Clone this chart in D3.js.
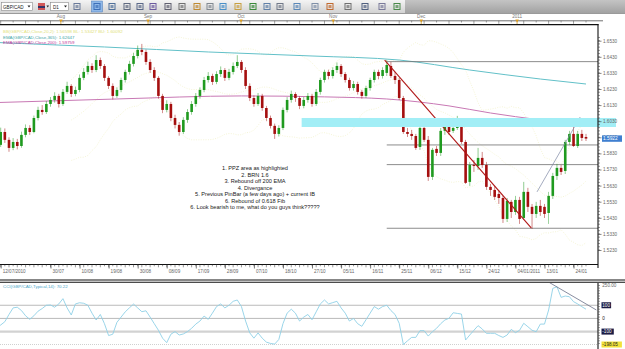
<!DOCTYPE html>
<html>
<head>
<meta charset="utf-8">
<script src="https://cdn.jsdelivr.net/npm/d3@7"></script>
<style>
html, body { margin: 0; padding: 0; background: #fff; overflow: hidden; }
svg { display: block; font-family: "Liberation Sans", Arial, sans-serif; }
</style>
</head>
<body>
<svg id="chart" width="625" height="349"></svg>
<script>

// daily GBP/CAD bars, index 0 = first bar of the window
var openP = [
	1.5900,1.5926,1.5883,1.5963,1.5914,1.5864,1.5901,1.5876,1.5945,1.5988,
	1.5963,1.6050,1.6100,1.6087,1.6137,1.6162,1.6187,1.6137,1.6212,1.6249,
	1.6199,1.6224,1.6299,1.6336,1.6373,1.6348,1.6410,1.6373,1.6299,1.6249,
	1.6187,1.6224,1.6286,1.6336,1.6386,1.6435,1.6473,1.6460,1.6398,1.6348,
	1.6299,1.6187,1.6100,1.6137,1.6050,1.6007,1.5963,1.6038,1.6087,1.6137,
	1.6187,1.6224,1.6286,1.6311,1.6274,1.6323,1.6348,1.6299,1.6336,1.6373,
	1.6398,1.6348,1.6249,1.6174,1.6137,1.6187,1.6112,1.6050,1.6001,1.5951,
	1.5988,1.6100,1.6162,1.6199,1.6174,1.6125,1.6162,1.6187,1.6137,1.6212,
	1.6286,1.6336,1.6311,1.6348,1.6373,1.6323,1.6286,1.6236,1.6261,1.6212,
	1.6187,1.6236,1.6286,1.6336,1.6311,1.6330,1.6373,1.6311,1.6286,1.6174,
	1.5963,1.5951,1.5938,1.5870,1.5988,1.5914,1.5684,1.5858,1.5833,1.5970,
	1.6007,1.5970,1.5988,1.6019,1.5901,1.5653,1.5758,1.5752,1.5802,1.5758,
	1.5622,1.5603,1.5578,1.5553,1.5423,1.5529,1.5466,1.5541,1.5429,1.5591,
	1.5498,1.5454,1.5504,1.5498,1.5460,1.5566,1.5690,1.5740,1.5721,1.5901,
	1.5951,1.5876,1.5951,1.5932
];
var highP = [
	1.5975,1.5950,1.5990,1.5985,1.5930,1.5925,1.5920,1.5965,1.6010,1.6005,
	1.6065,1.6120,1.6130,1.6155,1.6180,1.6210,1.6200,1.6230,1.6275,1.6260,
	1.6245,1.6320,1.6360,1.6400,1.6390,1.6440,1.6425,1.6385,1.6310,1.6265,
	1.6240,1.6300,1.6350,1.6405,1.6455,1.6500,1.6510,1.6475,1.6415,1.6365,
	1.6310,1.6200,1.6160,1.6150,1.6070,1.6025,1.6055,1.6105,1.6155,1.6205,
	1.6240,1.6305,1.6335,1.6325,1.6340,1.6370,1.6360,1.6355,1.6395,1.6440,
	1.6410,1.6365,1.6265,1.6190,1.6205,1.6200,1.6125,1.6065,1.6015,1.6005,
	1.6115,1.6180,1.6220,1.6210,1.6185,1.6180,1.6205,1.6200,1.6230,1.6300,
	1.6350,1.6350,1.6365,1.6395,1.6385,1.6335,1.6300,1.6280,1.6275,1.6225,
	1.6250,1.6300,1.6350,1.6350,1.6365,1.6410,1.6398,1.6336,1.6299,1.6187,
	1.5988,1.5976,1.5951,1.6038,1.6025,1.5938,1.5864,1.5876,1.5988,1.6038,
	1.6050,1.6007,1.6063,1.6038,1.5914,1.5777,1.5789,1.5864,1.5839,1.5777,
	1.5640,1.5628,1.5603,1.5566,1.5553,1.5541,1.5566,1.5560,1.5653,1.5616,
	1.5516,1.5529,1.5541,1.5516,1.5591,1.5709,1.5765,1.5758,1.5914,1.5970,
	1.6019,1.5970,1.5976,1.5951
];
var lowP = [
	1.5870,1.5860,1.5870,1.5895,1.5840,1.5850,1.5855,1.5865,1.5930,1.5945,
	1.5955,1.6035,1.6070,1.6075,1.6120,1.6145,1.6115,1.6125,1.6200,1.6180,
	1.6185,1.6210,1.6285,1.6320,1.6330,1.6335,1.6355,1.6280,1.6230,1.6165,
	1.6175,1.6210,1.6270,1.6320,1.6370,1.6420,1.6440,1.6380,1.6330,1.6280,
	1.6170,1.6080,1.6085,1.6030,1.5985,1.5940,1.5950,1.6020,1.6070,1.6120,
	1.6170,1.6210,1.6270,1.6255,1.6260,1.6305,1.6280,1.6285,1.6320,1.6360,
	1.6330,1.6230,1.6155,1.6120,1.6125,1.6095,1.6030,1.5985,1.5920,1.5935,
	1.5975,1.6085,1.6145,1.6150,1.6105,1.6110,1.6145,1.6120,1.6125,1.6195,
	1.6270,1.6290,1.6295,1.6330,1.6305,1.6270,1.6220,1.6220,1.6195,1.6170,
	1.6175,1.6220,1.6270,1.6290,1.6295,1.6311,1.6299,1.6261,1.6162,1.5951,
	1.5932,1.5914,1.5852,1.5852,1.5901,1.5659,1.5665,1.5814,1.5814,1.5945,
	1.5945,1.5957,1.5976,1.5889,1.5640,1.5628,1.5715,1.5727,1.5740,1.5603,
	1.5566,1.5541,1.5516,1.5398,1.5404,1.5429,1.5448,1.5392,1.5417,1.5466,
	1.5361,1.5429,1.5442,1.5429,1.5392,1.5547,1.5665,1.5696,1.5702,1.5883,
	1.5870,1.5864,1.5907,1.5907
];
var closeP = [
	1.5926,1.5883,1.5963,1.5914,1.5864,1.5901,1.5876,1.5945,1.5988,1.5963,
	1.6050,1.6100,1.6087,1.6137,1.6162,1.6187,1.6137,1.6212,1.6249,1.6199,
	1.6224,1.6299,1.6336,1.6373,1.6348,1.6410,1.6373,1.6299,1.6249,1.6187,
	1.6224,1.6286,1.6336,1.6386,1.6435,1.6473,1.6460,1.6398,1.6348,1.6299,
	1.6187,1.6100,1.6137,1.6050,1.6007,1.5963,1.6038,1.6087,1.6137,1.6187,
	1.6224,1.6286,1.6311,1.6274,1.6323,1.6348,1.6299,1.6336,1.6373,1.6398,
	1.6348,1.6249,1.6174,1.6137,1.6187,1.6112,1.6050,1.6001,1.5951,1.5988,
	1.6100,1.6162,1.6199,1.6174,1.6125,1.6162,1.6187,1.6137,1.6212,1.6286,
	1.6336,1.6311,1.6348,1.6373,1.6323,1.6286,1.6236,1.6261,1.6212,1.6187,
	1.6236,1.6286,1.6336,1.6311,1.6348,1.6379,1.6311,1.6286,1.6174,1.5963,
	1.5951,1.5938,1.5864,1.5988,1.5914,1.5684,1.5852,1.5833,1.5970,1.6007,
	1.5963,1.5988,1.6019,1.5901,1.5647,1.5758,1.5752,1.5802,1.5758,1.5622,
	1.5603,1.5560,1.5553,1.5423,1.5535,1.5466,1.5541,1.5423,1.5591,1.5498,
	1.5454,1.5504,1.5466,1.5454,1.5566,1.5690,1.5740,1.5715,1.5901,1.5951,
	1.5876,1.5951,1.5926,1.5922
];

// CCI(14) per bar
var cciValues = [
	-90,-75,-50,-25,30,80,85,60,20,-7,
	20,55,75,100,102,85,110,150,80,26,
	110,119,115,100,40,-12,30,-40,-130,-120,
	-30,10,50,80,109,80,51,58,10,-40,
	-90,-150,-184,-120,-100,-126,-118,-100,-75,-43,
	-20,18,-7,40,90,110,80,100,130,140,
	90,-20,-110,-150,-110,-150,-180,-190,-195,-160,
	-40,40,70,40,-20,10,30,-10,50,110,
	140,110,120,130,80,40,-20,0,-40,-60,
	-10,40,90,70,90,100,60,30,-37,-198,
	-170,-144,-144,-93,-93,-134,-101,-75,-40,-12,
	1,43,38,33,-164,-126,-90,-55,-80,-113,
	-113,-113,-130,-144,-126,-83,-108,-90,-37,-63,
	-90,-101,-43,-43,64,228,241,160,170,165,
	127,110,89,70
];

// bottom time scale (bar index -> label)
var dateTicks  = [2, 14, 21, 28, 35, 42, 49, 56, 63, 70, 77, 84, 91, 98, 105, 112, 119, 126, 133, 140];
var dateLabels = ['12/07/2010','30/07','10/08','19/08','30/08','08/09','17/09','28/09','07/10','18/10',
                  '27/10','05/11','16/11','25/11','06/12','15/12','24/12','04/01/2011','13/01','24/01'];
// top ruler months
var monthTicks  = [16.5, 37.5, 59.9, 82.1, 103.3, 126.4];
var monthLabels = ['Aug', 'Sep', 'Oct', 'Nov', 'Dec', '2011'];
// price scale labels
var priceTicks = [1.5230,1.5330,1.5430,1.5530,1.5630,1.5730,1.5830,1.5930,1.6030,1.6130,1.6230,1.6330,1.6430,1.6530];

// moving averages [bar, price]
var ema365 = [[0,1.6520],[27,1.6491],[52,1.6460],[77,1.6435],[98,1.6410],[115,1.6348],[132,1.6292],[143,1.6261]];
var ema200 = [[0,1.6145],[30,1.6168],[60,1.6187],[80,1.6181],[95,1.6168],[110,1.6125],[120,1.6081],[132,1.6038],[143,1.6007]];

// drawn objects
var fibLevels = [0, 0.382, 0.5, 0.618, 1];
var fibHigh = 1.6400, fibLow = 1.5365, fibStartBar = 95;
var ppzZone = {fromBar: 74.5, top: 1.6050, bottom: 1.5994};
var trendDown = [[94.5, 1.6410], [129.8, 1.5367]];
var trendUp = [[131.2, 1.5591], [141.6, 1.6056]];
var cciTrend = [[134, 276], [145.5, 64]];
var cciLevels = [100, 0, -100];
var lastPrice = 1.5922, cciLast = '70.22', cciMin = -198.05, cciMax = 250;

var legendLines = [
	{text: 'BB(GBP/CAD,Close,20,2): 1.56598  BL: 1.53427  BU: 1.60092', color: '#e2e27a'},
	{text: 'EMA(GBP/CAD,Close,365): 1.62647', color: '#3fa7a7'},
	{text: 'EMA(GBP/CAD,Close,200): 1.59759', color: '#c0389a'}
];
var notes = [
	'1. PPZ area as highlighted',
	'2. BRN 1.6',
	'3. Rebound off 200 EMA',
	'4. Divergance',
	'5. Previous PinBar (a few days ago) + current IB',
	'6. Rebound of 0.618 Fib',
	'6. Look bearish to me, what do you guys think?????'
];

var svg = d3.select('#chart');
var W = 625, H = 349;
var plotRight = 598, plotTop = 25, plotBottom = 264.5;
var cciTop = 283, cciBottom = 349;

var x = d3.scaleLinear().domain([14, 143]).range([50.5, 586]);
var y = d3.scaleLinear().domain([1.5230, 1.6530]).range([250, 40.7]);
var yc = d3.scaleLinear().domain([cciMin, cciMax]).range([344.5, 285.5]);

var defs = svg.append('defs');
defs.append('clipPath').attr('id', 'clipMain')
	.append('rect').attr('x', 0).attr('y', plotTop).attr('width', plotRight).attr('height', plotBottom - plotTop);
defs.append('clipPath').attr('id', 'clipCci')
	.append('rect').attr('x', 0).attr('y', cciTop).attr('width', plotRight).attr('height', cciBottom - cciTop);
var g1 = defs.append('linearGradient').attr('id', 'tbLight').attr('x1', 0).attr('x2', 0).attr('y1', 0).attr('y2', 1);
g1.append('stop').attr('offset', '0%').attr('stop-color', '#f4f4f4');
g1.append('stop').attr('offset', '100%').attr('stop-color', '#d2d2d2');
var g2 = defs.append('linearGradient').attr('id', 'tbDark').attr('x1', 0).attr('x2', 0).attr('y1', 0).attr('y2', 1);
g2.append('stop').attr('offset', '0%').attr('stop-color', '#c4c4c4');
g2.append('stop').attr('offset', '100%').attr('stop-color', '#a2a2a2');

svg.append('rect').attr('width', W).attr('height', H).attr('fill', '#fff');

// ---- toolbar ----
var tb = svg.append('g');
tb.append('rect').attr('width', W).attr('height', 13).attr('fill', 'url(#tbLight)');
tb.append('rect').attr('x', 405).attr('width', W - 405).attr('height', 13).attr('fill', 'url(#tbDark)');
tb.append('line').attr('x1', 0).attr('x2', W).attr('y1', 13.5).attr('y2', 13.5).attr('stroke', '#9a9a9a');
// symbol and period boxes
tb.append('rect').attr('x', 1.5).attr('y', 2.5).attr('width', 31).attr('height', 8).attr('fill', '#fff').attr('stroke', '#8a8a8a').attr('stroke-width', 0.6);
tb.append('text').attr('x', 3).attr('y', 8.6).attr('font-size', 4.6).attr('fill', '#222').text('GBP/CAD');
tb.append('path').attr('d', 'M27.5,5.5h3l-1.5,2z').attr('fill', '#222');
tb.append('rect').attr('x', 38).attr('y', 3).attr('width', 7).attr('height', 7).attr('fill', '#c33').attr('opacity', 0.8);
tb.append('rect').attr('x', 38).attr('y', 6).attr('width', 7).attr('height', 2).attr('fill', '#336');
tb.append('path').attr('d', 'M46.5,5.5h2.5l-1.25,2z').attr('fill', '#222');
tb.append('rect').attr('x', 50.5).attr('y', 2.5).attr('width', 18).attr('height', 8).attr('fill', '#fff').attr('stroke', '#8a8a8a').attr('stroke-width', 0.6);
tb.append('text').attr('x', 53).attr('y', 8.6).attr('font-size', 4.6).attr('fill', '#222').text('D1');
tb.append('path').attr('d', 'M64,5.5h3l-1.5,2z').attr('fill', '#222');
// icon buttons
var icons = [[77,'#6a7a9a'],[97,'#3d6fb8'],[112,'#50709a'],[127,'#606a80'],[140,'#5a6888'],[153,'#6c5aa0'],
	[168,'#606070'],[182,'#707070'],[197,'#c08a30'],[210,'#808890'],[223,'#4a90c8'],[238,'#c8a040'],
	[253,'#3a8a3a'],[267,'#6080a8'],[280,'#707888'],[297,'#5a88b8'],[315,'#8090a8'],[330,'#c06a30'],
	[348,'#707070'],[365,'#506080'],[382,'#7a7a9a'],[397,'#4a8a4a']];
icons.forEach(function(d, k) {
	if (k === 1) {
		tb.append('rect').attr('x', d[0] - 5.5).attr('y', 1).attr('width', 11).attr('height', 11).attr('fill', '#8fb8e8').attr('stroke', '#4a7ab8').attr('stroke-width', 0.5);
	}
	tb.append('rect').attr('x', d[0] - 3).attr('y', 3.5).attr('width', 6).attr('height', 6)
		.attr('fill', 'none').attr('stroke', d[1]).attr('stroke-width', 1);
	tb.append('rect').attr('x', d[0] - 1.5).attr('y', 5).attr('width', 3).attr('height', 3).attr('fill', d[1]).attr('opacity', 0.7);
});

// ---- top ruler ----
var ruler = svg.append('g');
ruler.append('line').attr('x1', 0).attr('x2', 603).attr('y1', 20.8).attr('y2', 20.8).attr('stroke', '#333').attr('stroke-width', 0.7);
ruler.selectAll('line.rt').data(d3.range(2, 144, 3)).enter().append('line')
	.attr('x1', function(d) { return x(d); }).attr('x2', function(d) { return x(d); })
	.attr('y1', 20.8).attr('y2', function(d, k) { return k % 2 ? 22.5 : 23.8; })
	.attr('stroke', '#444').attr('stroke-width', 0.5);
ruler.selectAll('path.mk').data(monthTicks).enter().append('path')
	.attr('d', function(d) { var cx = x(d); return 'M' + (cx - 1.8) + ',19.6h3.6l-1.8,2.6z'; })
	.attr('fill', '#e0a020');
ruler.selectAll('line.mk').data(monthTicks).enter().append('line')
	.attr('x1', function(d) { return x(d); }).attr('x2', function(d) { return x(d); })
	.attr('y1', 20.8).attr('y2', 24).attr('stroke', '#c88a10').attr('stroke-width', 0.7);
ruler.selectAll('text').data(monthTicks).enter().append('text')
	.attr('x', function(d) { return x(d); }).attr('y', 17.6)
	.attr('text-anchor', 'middle').attr('font-size', 4.6).attr('fill', '#777')
	.text(function(d, k) { return monthLabels[k]; });

// ---- main price panel ----
var plot = svg.append('g').attr('clip-path', 'url(#clipMain)');

// PPZ highlighted zone (runs over the price scale a bit)
svg.append('rect')
	.attr('x', x(ppzZone.fromBar)).attr('y', y(ppzZone.top))
	.attr('width', plotRight + 18 - x(ppzZone.fromBar))
	.attr('height', y(ppzZone.bottom) - y(ppzZone.top))
	.attr('fill', '#a2eef6');

// bollinger bands (20, 2) from closes
var bbUp = [], bbMid = [], bbLow = [];
for (var i = 19; i < closeP.length; i++) {
	var win = closeP.slice(i - 19, i + 1);
	var m = d3.mean(win);
	var sd = Math.sqrt(d3.mean(win, function(v) { return (v - m) * (v - m); }));
	bbUp.push([i, m + 2 * sd]); bbMid.push([i, m]); bbLow.push([i, m - 2 * sd]);
}
var pline = d3.line().x(function(d) { return x(d[0]); }).y(function(d) { return y(d[1]); });
[bbUp, bbMid, bbLow].forEach(function(band) {
	plot.append('path').attr('d', pline(band)).attr('fill', 'none')
		.attr('stroke', '#efefbc').attr('stroke-width', 0.6).attr('stroke-dasharray', '1,1.4');
});

// EMAs
var smooth = d3.line().curve(d3.curveMonotoneX).x(function(d) { return x(d[0]); }).y(function(d) { return y(d[1]); });
plot.append('path').attr('d', smooth(ema365)).attr('fill', 'none').attr('stroke', '#62c0c8').attr('stroke-width', 1);
plot.append('path').attr('d', smooth(ema200)).attr('fill', 'none').attr('stroke', '#c878b4').attr('stroke-width', 1);

// fibonacci levels
var fibRange = fibHigh - fibLow;
plot.selectAll('line.fib').data(fibLevels).enter().append('line')
	.attr('x1', x(fibStartBar)).attr('x2', plotRight)
	.attr('y1', function(d) { return y(fibLow + d * fibRange); })
	.attr('y2', function(d) { return y(fibLow + d * fibRange); })
	.attr('stroke', '#6e6e6e').attr('stroke-width', 0.8);

// candles
var bars = d3.range(closeP.length);
var bodyW = 2.6;
function candleColor(i) { return closeP[i] >= openP[i] ? '#1f9a1f' : '#a50f0f'; }
plot.selectAll('line.wick').data(bars).enter().append('line')
	.attr('x1', function(i) { return x(i); }).attr('x2', function(i) { return x(i); })
	.attr('y1', function(i) { return y(highP[i]); }).attr('y2', function(i) { return y(lowP[i]); })
	.attr('stroke', candleColor).attr('stroke-width', 0.7).attr('opacity', 0.7);
plot.selectAll('rect.body').data(bars).enter().append('rect')
	.attr('x', function(i) { return x(i) - bodyW / 2; }).attr('width', bodyW)
	.attr('y', function(i) { return y(Math.max(openP[i], closeP[i])); })
	.attr('height', function(i) { return Math.max(0.8, Math.abs(y(openP[i]) - y(closeP[i]))); })
	.attr('fill', candleColor);

// trend lines
plot.append('path').attr('d', pline(trendDown)).attr('stroke', '#b01818').attr('stroke-width', 1.1).attr('fill', 'none');
plot.append('path').attr('d', pline(trendUp)).attr('stroke', '#7c86a4').attr('stroke-width', 0.7).attr('fill', 'none');

// legend
svg.selectAll('text.leg').data(legendLines).enter().append('text')
	.attr('x', 3).attr('y', function(d, k) { return 33 + k * 5.5; })
	.attr('font-size', 4.4).attr('fill', function(d) { return d.color; })
	.text(function(d) { return d.text; });

// notes
svg.append('g').selectAll('text').data(notes).enter().append('text')
	.attr('x', 255).attr('y', function(d, k) { return 170 + k * 6.5; })
	.attr('text-anchor', 'middle').attr('font-size', 5.6).attr('fill', '#1a1a1a')
	.text(function(d) { return d; });

// frame
svg.append('line').attr('x1', 0).attr('x2', plotRight + 0.5).attr('y1', 24.6).attr('y2', 24.6).attr('stroke', '#111').attr('stroke-width', 1.4);
svg.append('line').attr('x1', plotRight).attr('x2', plotRight).attr('y1', 24).attr('y2', 268).attr('stroke', '#111').attr('stroke-width', 1.1);

// price scale
var minorTicks = d3.range(1.5230, 1.6560, 0.002);
svg.append('g').selectAll('line').data(minorTicks).enter().append('line')
	.attr('x1', plotRight).attr('x2', plotRight + 2)
	.attr('y1', function(d) { return y(d); }).attr('y2', function(d) { return y(d); })
	.attr('stroke', '#333').attr('stroke-width', 0.5);
var yAxis = d3.axisRight(y).tickValues(priceTicks).tickFormat(d3.format('.4f')).tickSize(3.5).tickPadding(1.5);
var ya = svg.append('g').attr('transform', 'translate(' + plotRight + ',0)').call(yAxis);
ya.select('.domain').remove();
ya.selectAll('line').attr('stroke', '#333').attr('stroke-width', 0.6);
ya.selectAll('text').attr('font-size', 4.6).attr('fill', '#666').attr('font-family', '"Liberation Sans", Arial, sans-serif');

// last price marker
svg.append('rect').attr('x', plotRight + 4).attr('y', y(lastPrice) - 3.2).attr('width', 20).attr('height', 6.4).attr('fill', '#3f7fd0');
svg.append('text').attr('x', plotRight + 5).attr('y', y(lastPrice) + 1.7).attr('font-size', 4.8).attr('fill', '#fff').text(lastPrice.toFixed(4));

// bottom time scale
svg.append('line').attr('x1', 0).attr('x2', plotRight).attr('y1', plotBottom).attr('y2', plotBottom).attr('stroke', '#111').attr('stroke-width', 1);
svg.append('g').selectAll('line').data(bars).enter().append('line')
	.attr('x1', function(i) { return x(i); }).attr('x2', function(i) { return x(i); })
	.attr('y1', plotBottom).attr('y2', function(i) { return i % 2 ? plotBottom + 1.8 : plotBottom + 2.8; })
	.attr('stroke', '#333').attr('stroke-width', 0.5);
var xAxis = d3.axisBottom(x).tickValues(dateTicks).tickSize(4).tickFormat(function(d, k) { return dateLabels[k]; });
var xa = svg.append('g').attr('transform', 'translate(0,' + plotBottom + ')').call(xAxis);
xa.select('.domain').remove();
xa.selectAll('line').attr('stroke', '#222').attr('stroke-width', 0.6);
xa.selectAll('text').attr('font-size', 4.6).attr('fill', '#666').attr('text-anchor', 'start')
	.attr('dx', 1.5).attr('dy', 0).attr('y', 8).attr('font-family', '"Liberation Sans", Arial, sans-serif');

// panel separator
svg.append('line').attr('x1', 0).attr('x2', W).attr('y1', 280).attr('y2', 280).attr('stroke', '#111').attr('stroke-width', 1.1);
svg.append('line').attr('x1', 0).attr('x2', W).attr('y1', 282.2).attr('y2', 282.2).attr('stroke', '#111').attr('stroke-width', 1.1);

// ---- CCI panel ----
var cp = svg.append('g').attr('clip-path', 'url(#clipCci)');
cp.selectAll('line.lvl').data(cciLevels).enter().append('line')
	.attr('x1', 0).attr('x2', plotRight)
	.attr('y1', function(d) { return yc(d); }).attr('y2', function(d) { return yc(d); })
	.attr('stroke', function(d) { return d < 0 ? '#d2d2d2' : '#a8a8a8'; })
	.attr('stroke-width', function(d) { return d < 0 ? 2.2 : 0.8; });
cp.append('line').attr('x1', 0).attr('x2', plotRight).attr('y1', yc(cciMin)).attr('y2', yc(cciMin))
	.attr('stroke', '#bbb').attr('stroke-width', 0.7).attr('stroke-dasharray', '1,1');
var cline = d3.line().x(function(d, i) { return x(i); }).y(function(d) { return yc(d); });
cp.append('path').attr('d', cline(cciValues)).attr('fill', 'none').attr('stroke', '#8fd0e6').attr('stroke-width', 0.9);
cp.append('path').attr('d', d3.line().x(function(d) { return x(d[0]); }).y(function(d) { return yc(d[1]); })(cciTrend))
	.attr('stroke', '#6a7088').attr('stroke-width', 0.8).attr('fill', 'none');
svg.append('text').attr('x', 3).attr('y', 287.5).attr('font-size', 4.4).attr('fill', '#4aa6c8')
	.text('CCI(GBP/CAD,Typical,14): ' + cciLast);

// CCI scale
svg.append('line').attr('x1', plotRight).attr('x2', plotRight).attr('y1', cciTop).attr('y2', H).attr('stroke', '#111').attr('stroke-width', 1.1);
svg.append('g').selectAll('line').data(d3.range(-190, 251, 20)).enter().append('line')
	.attr('x1', plotRight).attr('x2', plotRight + 2)
	.attr('y1', function(d) { return yc(d); }).attr('y2', function(d) { return yc(d); })
	.attr('stroke', '#444').attr('stroke-width', 0.5);
var cciScaleLabels = [
	{v: cciMax, t: cciMax.toFixed(2), bg: null, fg: '#666'},
	{v: 100, t: '100', bg: '#1c1c44', fg: '#fff'},
	{v: 0, t: '0', bg: null, fg: '#222'},
	{v: -100, t: '-100', bg: '#1c1c44', fg: '#fff'},
	{v: cciMin, t: cciMin.toFixed(2), bg: '#f2e23a', fg: '#222'}
];
cciScaleLabels.forEach(function(d) {
	var w = d.t.length * 2.7 + 1.5;
	if (d.bg) {
		svg.append('rect').attr('x', plotRight + 3.5).attr('y', yc(d.v) - 3).attr('width', w).attr('height', 6).attr('fill', d.bg);
	}
	svg.append('text').attr('x', plotRight + 4.3).attr('y', yc(d.v) + 1.7).attr('font-size', 4.6).attr('fill', d.fg).text(d.t);
});

</script>
</body>
</html>
